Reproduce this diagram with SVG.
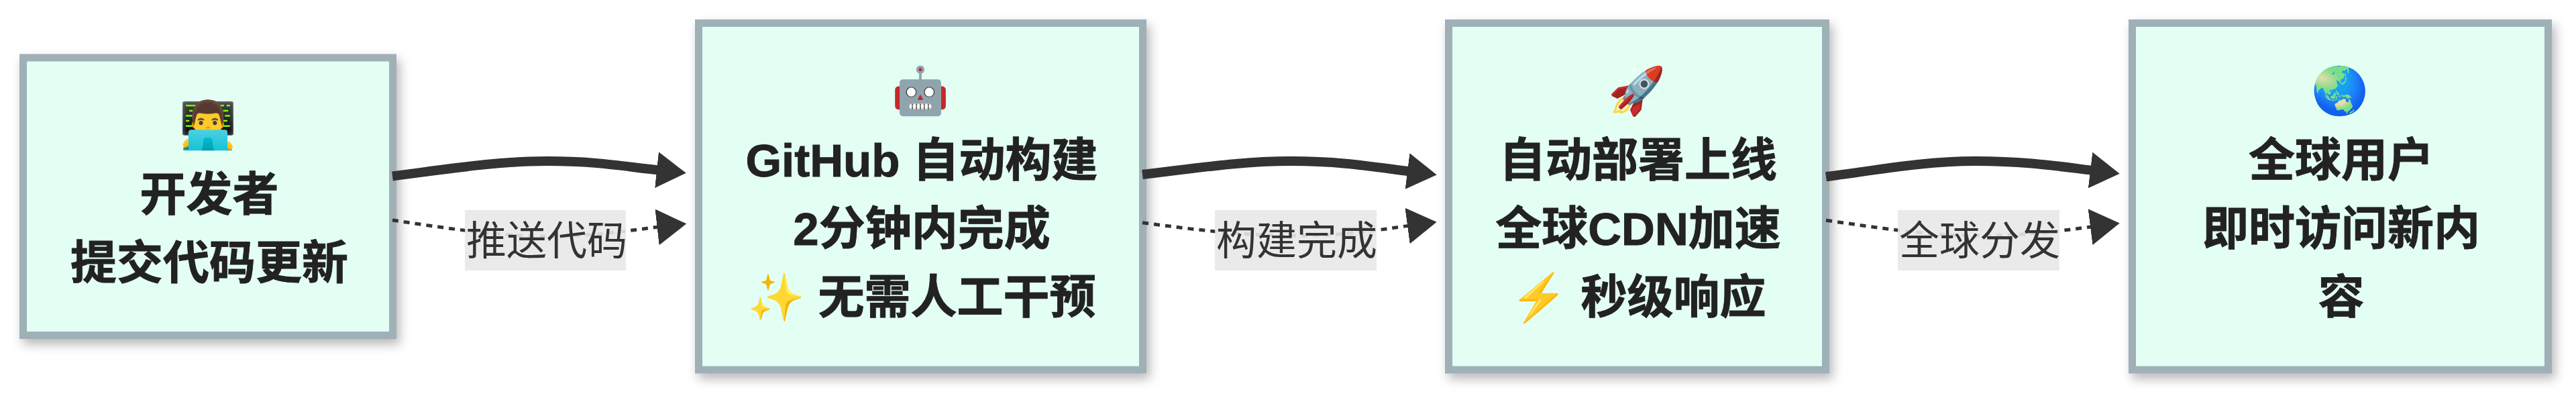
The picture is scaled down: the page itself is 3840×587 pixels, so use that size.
<svg xmlns="http://www.w3.org/2000/svg" width="3840" height="587" viewBox="0 0 3840 587">
<defs>
<filter id="sh" x="-10%" y="-10%" width="125%" height="125%"><feDropShadow dx="5" dy="8" stdDeviation="8" flood-color="#000" flood-opacity="0.28"/></filter>
<marker id="a" markerUnits="userSpaceOnUse" markerWidth="48" markerHeight="58" refX="4" refY="28" orient="auto"><path d="M0 1L44 28L0 55Z" fill="#333"/></marker>
</defs>
<style>
.n{fill:#e3fff4;stroke:#9fb0b7;stroke-width:11}
.t{font:bold 69px "Liberation Sans","Noto Sans CJK SC","Noto Color Emoji",sans-serif;fill:#222;stroke:#222;stroke-width:.9;text-anchor:middle}
.e{stroke:none}
.l{font:60px "Liberation Sans","Noto Sans CJK SC",sans-serif;fill:#333;text-anchor:middle}
.s{fill:none;stroke:#333;stroke-width:14}
.d{fill:none;stroke:#333;stroke-width:5;stroke-dasharray:9 8}
.b{fill:#e8e8e8;fill-opacity:.9}
</style>
<rect width="3840" height="587" fill="#fff"/>
<g id="n1"><rect class="n" x="34.5" y="86" width="551" height="413.5" filter="url(#sh)"/>
<text class="t e" x="310" y="210">👨‍💻</text><text class="t" x="312" y="314">开发者</text><text class="t" x="312" y="416">提交代码更新</text></g>
<g id="n2"><rect class="n" x="1041.5" y="34.5" width="662" height="516.5" filter="url(#sh)"/>
<text class="t e" x="1372" y="159">🤖</text><text class="t" x="1374" y="263">GitHub 自动构建</text><text class="t" x="1374" y="365">2分钟内完成</text><text class="t" x="1374" y="467"><tspan class="e">✨</tspan> 无需人工干预</text></g>
<g id="n3"><rect class="n" x="2159.5" y="34.5" width="562" height="516.5" filter="url(#sh)"/>
<text class="t e" x="2440" y="159">🚀</text><text class="t" x="2442" y="263">自动部署上线</text><text class="t" x="2442" y="365">全球CDN加速</text><text class="t" x="2442" y="467"><tspan class="e">⚡</tspan> 秒级响应</text></g>
<g id="n4"><rect class="n" x="3178.5" y="34.5" width="620" height="516.5" filter="url(#sh)"/>
<text class="t e" x="3488" y="159">🌏</text><text class="t" x="3490" y="263">全球用户</text><text class="t" x="3490" y="365">即时访问新内</text><text class="t" x="3490" y="467">容</text></g>
<g id="connectors">
<path class="s" marker-end="url(#a)" d="M585 262.5C660 253 740 240 815 240S930 248 983 253.6"/>
<path class="d" marker-end="url(#a)" d="M585 328C660 339 740 352 815 352S930 344 983.5 337.9"/>
<path class="s" marker-end="url(#a)" d="M1703 260C1780 251 1850 240 1925 240S2050 249 2102 255.5"/>
<path class="d" marker-end="url(#a)" d="M1703 331.7C1780 342 1850 351 1930 351S2050 343 2102 336"/>
<path class="s" marker-end="url(#a)" d="M2722 263.3C2800 253 2870 240 2945 240S3070 248 3120 254"/>
<path class="d" marker-end="url(#a)" d="M2722 328.3C2800 339 2870 351 2948 351S3070 344 3120 337.6"/>
<rect class="b" x="693" y="313" width="240" height="90"/><text class="l" x="815" y="380">推送代码</text>
<rect class="b" x="1811" y="313" width="241" height="90"/><text class="l" x="1933" y="380">构建完成</text>
<rect class="b" x="2829" y="313" width="241" height="90"/><text class="l" x="2951" y="380">全球分发</text>
</g>
</svg>
